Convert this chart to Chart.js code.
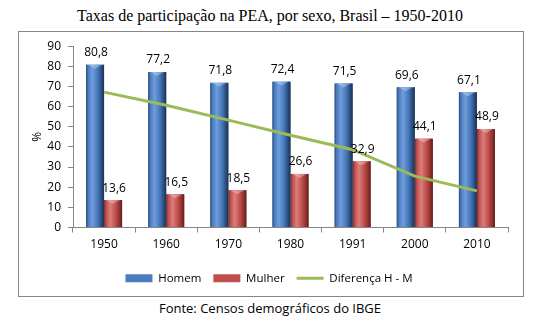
<!DOCTYPE html>
<html lang="pt">
<head>
<meta charset="UTF-8">
<title>Taxas de participação na PEA</title>
<script src="https://cdn.jsdelivr.net/npm/chart.js"></script>
<style>
  body { margin: 0; width: 540px; height: 325px; background: #fff; position: relative; overflow: hidden; }
  #title { position: absolute; left: 0; top: 7px; width: 540px; text-align: center;
           font-family: "Liberation Serif", serif; font-size: 16px; color: #000; }
  #box { position: absolute; left: 18px; top: 31px; width: 506px; height: 266px;
         box-sizing: border-box; border: 1px solid #868686; }
  #fonte { position: absolute; left: 0; top: 299px; width: 540px; text-align: center;
           font-family: "Open Sans", sans-serif; font-size: 13px; color: #000; }
</style>
</head>
<body>
<div id="title">Taxas de participação na PEA, por sexo, Brasil – 1950-2010</div>
<div id="box"><canvas id="chart" width="504" height="264"></canvas></div>
<div id="fonte">Fonte: Censos demográficos do IBGE</div>

<script>
  // data
  const anos = ['1950', '1960', '1970', '1980', '1991', '2000', '2010'];
  const homem = [80.8, 77.2, 71.8, 72.4, 71.5, 69.6, 67.1];
  const mulher = [13.6, 16.5, 18.5, 26.6, 32.9, 44.1, 48.9];
  const diferenca = [67.2, 60.7, 53.3, 45.8, 38.6, 25.5, 18.2];

  const fontFam = '"Open Sans", sans-serif';
  const axisGray = '#868686';

  // colour stops for the cylinder look of each bar
  const barShades = {
    0: ['#2b4c78', '#4a7cc0', '#6f9ddc', '#4677bb', '#284a77', '#1a3050'],
    1: ['#7e2a28', '#c0504d', '#dc7d7a', '#bd4d4a', '#8a2e2c', '#5c1c1b']
  };

  // repaint each bar with a horizontal gradient (options objects are shared, so paint over)
  const cylinderPlugin = {
    id: 'cylinder',
    afterDatasetDraw(chart, args) {
      const shades = barShades[args.index];
      if (!shades) return;
      const ctx = chart.ctx;
      ctx.save();
      args.meta.data.forEach(el => {
        const x0 = el.x - el.width / 2, x1 = el.x + el.width / 2;
        const g = ctx.createLinearGradient(x0, 0, x1, 0);
        g.addColorStop(0, shades[0]);
        g.addColorStop(0.12, shades[1]);
        g.addColorStop(0.35, shades[2]);
        g.addColorStop(0.65, shades[3]);
        g.addColorStop(0.88, shades[4]);
        g.addColorStop(1, shades[5]);
        ctx.fillStyle = g;
        ctx.fillRect(x0, el.y, x1 - x0, el.base - el.y);
        // lighter bevel at the top of the bar
        ctx.fillStyle = 'rgba(255,255,255,0.30)';
        ctx.beginPath();
        ctx.moveTo(x0 + 2, el.y);
        ctx.lineTo(x1 - 2, el.y);
        ctx.lineTo(el.x, el.y + 4);
        ctx.closePath();
        ctx.fill();
      });
      ctx.restore();
    }
  };

  // value labels above the bars, decimal comma
  const labelPlugin = {
    id: 'valueLabels',
    afterDatasetsDraw(chart) {
      const ctx = chart.ctx;
      ctx.save();
      ctx.font = '12px ' + fontFam;
      ctx.fillStyle = '#000';
      ctx.textAlign = 'center';
      ctx.textBaseline = 'middle';
      [0, 1].forEach(di => {
        const meta = chart.getDatasetMeta(di);
        meta.data.forEach((el, i) => {
          const v = chart.data.datasets[di].data[i];
          ctx.fillText(v.toFixed(1).replace('.', ','), el.x + 1, el.y - 12);
        });
      });
      ctx.restore();
    }
  };

  new Chart(document.getElementById('chart'), {
    type: 'bar',
    data: {
      labels: anos,
      datasets: [
        { label: 'Homem', data: homem, backgroundColor: '#4a7cc0', borderWidth: 0,
          order: 1, pointStyle: 'rect' },
        { label: 'Mulher', data: mulher, backgroundColor: '#c0504d', borderWidth: 0,
          order: 1, pointStyle: 'rect' },
        { type: 'line', label: 'Diferença H - M', data: diferenca, borderColor: '#9bbb59',
          backgroundColor: '#9bbb59', borderWidth: 3, pointRadius: 0, tension: 0,
          order: -1, pointStyle: 'line' }
      ]
    },
    options: {
      responsive: false,
      animation: false,
      layout: { padding: { left: 11, top: 14, right: 15, bottom: 2 } },
      datasets: { bar: { categoryPercentage: 0.58, barPercentage: 1 } },
      plugins: {
        legend: {
          position: 'bottom',
          labels: {
            font: { family: fontFam, size: 11.5 },
            color: '#000',
            usePointStyle: true,
            pointStyleWidth: 27,
            boxHeight: 8,
            padding: 12,
            sort: (a, b) => a.datasetIndex - b.datasetIndex
          }
        },
        tooltip: { enabled: false }
      },
      scales: {
        x: {
          grid: { offset: true, drawOnChartArea: false, drawTicks: true, tickLength: 5, color: axisGray },
          border: { color: axisGray },
          ticks: { font: { family: fontFam, size: 12 }, color: '#000', padding: 5 },
          afterFit(s) { s.height = 33; }
        },
        y: {
          min: 0, max: 90,
          grid: { drawOnChartArea: false, drawTicks: true, tickLength: 5, color: axisGray },
          border: { color: axisGray },
          ticks: { stepSize: 10, font: { family: fontFam, size: 12 }, color: '#000', padding: 7 },
          title: { display: true, text: '%', font: { family: fontFam, size: 12 }, color: '#000', padding: 0 },
          afterFit(s) { s.width = 43; }
        }
      }
    },
    plugins: [cylinderPlugin, labelPlugin]
  });
</script>
</body>
</html>
